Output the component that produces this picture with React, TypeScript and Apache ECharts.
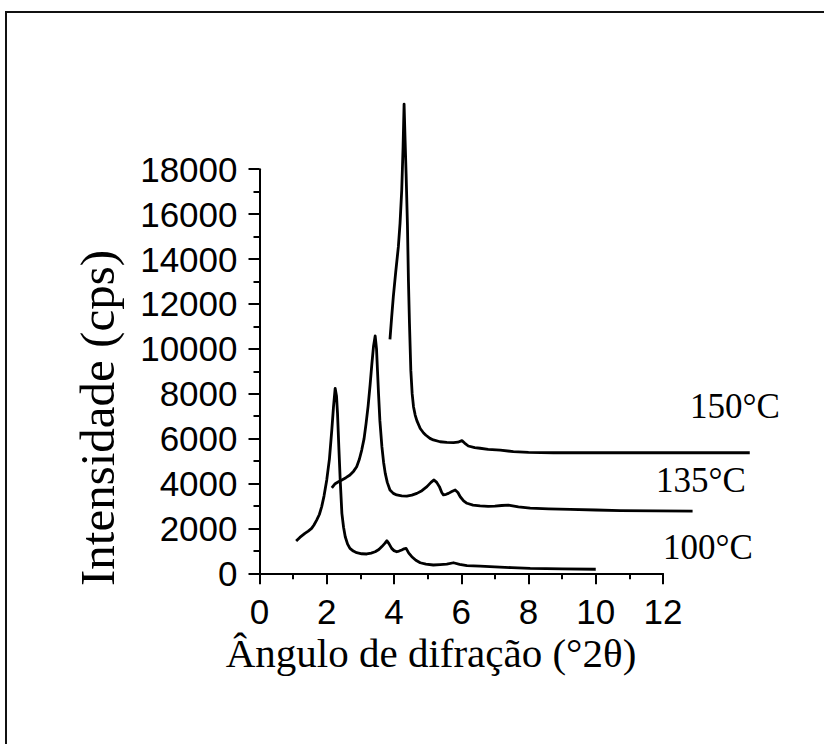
import React, { useEffect, useRef } from "react";
import * as echarts from "echarts";

const x100 = [1.09, 1.2, 1.35, 1.45, 1.55, 1.62, 1.70, 1.78, 1.85, 1.92, 2.00, 2.08, 2.15, 2.20, 2.25, 2.29, 2.32, 2.36, 2.40, 2.45, 2.50, 2.55, 2.62, 2.69, 2.79, 2.89, 3.04, 3.19, 3.32, 3.44, 3.55, 3.64, 3.72, 3.79, 3.85, 3.93, 4.00, 4.08, 4.15, 4.23, 4.30, 4.36, 4.44, 4.53, 4.65, 4.78, 4.95, 5.17, 5.37, 5.57, 5.77, 5.95, 6.17, 6.56, 7.0, 7.5, 8.05, 9.0, 10.0];
const y100 = [1440, 1600, 1780, 1880, 2000, 2150, 2370, 2620, 2970, 3450, 4160, 5100, 6380, 7400, 8240, 7900, 7130, 5600, 4160, 2670, 2050, 1630, 1300, 1110, 990, 920, 870, 860, 900, 960, 1060, 1190, 1320, 1450, 1320, 1110, 1010, 960, 990, 1040, 1090, 1110, 900, 740, 580, 470, 410, 370, 390, 410, 470, 400, 340, 320, 290, 250, 220, 200, 180];

const x135 = [2.15, 2.25, 2.35, 2.45, 2.57, 2.69, 2.80, 2.89, 2.97, 3.04, 3.11, 3.17, 3.23, 3.29, 3.34, 3.39, 3.44, 3.48, 3.51, 3.54, 3.58, 3.64, 3.69, 3.74, 3.80, 3.88, 3.98, 4.08, 4.23, 4.38, 4.53, 4.68, 4.83, 4.98, 5.10, 5.19, 5.27, 5.35, 5.42, 5.47, 5.55, 5.62, 5.72, 5.82, 5.90, 5.97, 6.07, 6.17, 6.35, 6.56, 6.8, 7.0, 7.2, 7.4, 7.7, 8.05, 8.6, 9.24, 10.0, 10.73, 11.8, 12.88];
const y135 = [3800, 3990, 4080, 4160, 4260, 4380, 4550, 4750, 5080, 5490, 6000, 6680, 7450, 8400, 9300, 10100, 10570, 10000, 9000, 8000, 6800, 5640, 4950, 4450, 4050, 3710, 3560, 3490, 3450, 3440, 3480, 3560, 3680, 3860, 4050, 4160, 4050, 3860, 3600, 3490, 3520, 3560, 3640, 3710, 3600, 3410, 3230, 3120, 3040, 3000, 2980, 2990, 3020, 3040, 2960, 2900, 2870, 2850, 2820, 2790, 2780, 2770];

const x150 = [3.88, 3.93, 3.98, 4.05, 4.13, 4.18, 4.23, 4.27, 4.30, 4.33, 4.36, 4.40, 4.43, 4.46, 4.50, 4.54, 4.58, 4.63, 4.68, 4.78, 4.88, 4.95, 5.07, 5.17, 5.37, 5.57, 5.77, 5.90, 6.02, 6.10, 6.21, 6.40, 6.56, 6.8, 7.16, 7.55, 8.0, 8.74, 9.7, 10.73, 12.5, 14.58];
const y150 = [10420, 11400, 12320, 13400, 14550, 15600, 17070, 19000, 20900, 19300, 17800, 15500, 13000, 11140, 9050, 8000, 7420, 7050, 6800, 6450, 6250, 6150, 6010, 5940, 5860, 5830, 5820, 5840, 5910, 5800, 5670, 5600, 5570, 5520, 5490, 5420, 5390, 5370, 5370, 5370, 5370, 5370];

const seriesLabels = ["100°C", "135°C", "150°C"];
const xTitle = "Ângulo de difração (°2θ)";
const yTitle = "Intensidade (cps)";

const pairs = (xs: number[], ys: number[]) => xs.map((x, i) => [x, ys[i]]);

export default function App() {
  const ref = useRef<HTMLDivElement>(null);
  useEffect(() => {
    if (!ref.current) return;
    const chart = echarts.init(ref.current, null, { renderer: "svg" });
    const axisCommon = {
      axisLine: { show: true, onZero: false, lineStyle: { color: "#000", width: 2 } },
      axisTick: { show: true, inside: false, length: 11, lineStyle: { color: "#000", width: 2 } },
      minorTick: { show: true, splitNumber: 2, length: 6, lineStyle: { color: "#000", width: 2 } },
      splitLine: { show: false },
      minorSplitLine: { show: false },
    };
    const hidden = {
      show: false,
      axisLine: { show: false },
      axisTick: { show: false },
      axisLabel: { show: false },
      splitLine: { show: false },
    };
    // unit = 33.6 px per degree; the data grid spans 0..15 with the same scale
    const unit = (824 - 161 - 259.5) / 12;
    const dataRight = 824 - (259.5 + unit * 15);
    const line = (name: string, data: number[][]) => ({
      name,
      type: "line",
      data,
      xAxisIndex: 1,
      yAxisIndex: 1,
      showSymbol: false,
      clip: false,
      lineStyle: { color: "#000", width: 2.8, join: "round" },
      itemStyle: { color: "#000" },
    });
    chart.setOption({
      animation: false,
      backgroundColor: "#fff",
      grid: [
        { left: 259.5, right: 161, top: 169.2, bottom: 170.7, containLabel: false },
        { left: 259.5, right: dataRight, top: 169.2, bottom: 170.7, containLabel: false },
      ],
      xAxis: [
        {
          type: "value",
          gridIndex: 0,
          min: 0,
          max: 12,
          interval: 2,
          ...axisCommon,
          axisLabel: { color: "#000", fontSize: 35, fontFamily: "Liberation Sans", margin: 21 },
        },
        { type: "value", gridIndex: 1, min: 0, max: 15, ...hidden },
      ],
      yAxis: [
        {
          type: "value",
          gridIndex: 0,
          min: 0,
          max: 18000,
          interval: 2000,
          ...axisCommon,
          axisLabel: {
            color: "#000",
            fontSize: 35,
            fontFamily: "Liberation Sans",
            margin: 22,
            formatter: (v: number) => String(v),
          },
        },
        { type: "value", gridIndex: 1, min: 0, max: 18000, ...hidden },
      ],
      series: [
        line(seriesLabels[0], pairs(x100, y100)),
        line(seriesLabels[1], pairs(x135, y135)),
        line(seriesLabels[2], pairs(x150, y150)),
      ],
      graphic: [
        {
          type: "rect",
          shape: { x: 6, y: 12, width: 900, height: 900 },
          style: { fill: "none", stroke: "#111", lineWidth: 2 },
        },
        {
          type: "text",
          x: 431,
          y: 653,
          style: { text: xTitle, font: '41px "Liberation Serif"', fill: "#000", textAlign: "center", textVerticalAlign: "middle" },
        },
        {
          type: "text",
          x: 97,
          y: 418,
          rotation: Math.PI / 2,
          style: { text: yTitle, font: '49px "Liberation Serif"', fill: "#000", textAlign: "center", textVerticalAlign: "middle" },
        },
        {
          type: "text",
          x: 690,
          y: 406,
          style: { text: seriesLabels[2], font: '35px "Liberation Serif"', fill: "#000", textAlign: "left", textVerticalAlign: "middle" },
        },
        {
          type: "text",
          x: 656,
          y: 480,
          style: { text: seriesLabels[1], font: '35px "Liberation Serif"', fill: "#000", textAlign: "left", textVerticalAlign: "middle" },
        },
        {
          type: "text",
          x: 663,
          y: 547,
          style: { text: seriesLabels[0], font: '35px "Liberation Serif"', fill: "#000", textAlign: "left", textVerticalAlign: "middle" },
        },
      ],
    });
    return () => chart.dispose();
  }, []);
  return <div ref={ref} style={{ position: "absolute", left: 0, top: 0, width: 824, height: 744 }} />;
}
